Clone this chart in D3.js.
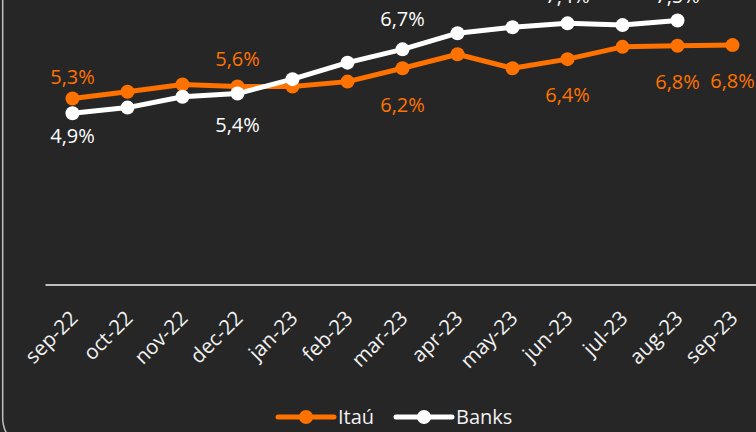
<!DOCTYPE html>
<html>
<head>
<meta charset="utf-8">
<script src="https://cdn.jsdelivr.net/npm/d3@7"></script>
<style>
    body { margin: 0; background: #262626; }
    svg { display: block; }
    text { font-family: "Open Sans", sans-serif; }
</style>
</head>
<body>
<div id="chart"></div>
<script>
const months = ['sep-22', 'oct-22', 'nov-22', 'dec-22', 'jan-23', 'feb-23', 'mar-23',
    'apr-23', 'may-23', 'jun-23', 'jul-23', 'aug-23', 'sep-23'];
const itau = [5.30, 5.49, 5.70, 5.64, 5.64, 5.78, 6.16, 6.56, 6.16, 6.42, 6.77, 6.80, 6.82];
const banks = [4.88, 5.04, 5.35, 5.44, 5.85, 6.32, 6.70, 7.16, 7.33, 7.44, 7.39, 7.52];
const itauLabelIdx = [0, 3, 6, 9, 11, 12];
const banksLabelIdx = [0, 3, 6, 9, 11];
const seriesNames = ['Itaú', 'Banks'];

const width = 756, height = 432;
const orange = '#ff7200';
const white = '#ffffff';

// label baseline offsets from the point (negative = above)
const labelDy = {
    'Itaú': [-14, -21, 44, 43, 43, 43],
    'Banks': [30, 38, -23, -20, -18]
};

const series = [
    {name: seriesNames[0], values: itau, labels: itauLabelIdx, color: orange},
    {name: seriesNames[1], values: banks, labels: banksLabelIdx, color: white}
];

const fmt = v => d3.format('.1f')(v).replace('.', ',') + '%';

let svg = d3.select('#chart')
    .append('svg')
    .attr('width', width)
    .attr('height', height);

// outer rounded frame (only left/bottom-left visible)
svg.append('rect')
    .attr('x', 2.7)
    .attr('y', -60)
    .attr('width', 900)
    .attr('height', 509)
    .attr('rx', 31)
    .attr('fill', 'none')
    .attr('stroke', '#bfbfbf')
    .attr('stroke-width', 1.5);

const x = d3.scalePoint()
    .domain(months)
    .range([45, 760])
    .padding(0.5);

const y = d3.scaleLinear()
    .domain([0, 8])
    .range([284.5, 284.5 - 8 * 35.1]);

// x axis
svg.append('g')
    .attr('transform', 'translate(0,' + y(0) + ')')
    .call(d3.axisBottom(x).tickSize(0).tickSizeOuter(0))
    .call(g => g.select('.domain')
        .attr('stroke', '#bfbfbf')
        .attr('stroke-width', 2))
    .call(g => g.selectAll('.tick text')
        .attr('x', 0)
        .attr('y', 0)
        .attr('dy', 0)
        .attr('transform', 'translate(6,35) rotate(-45)')
        .attr('text-anchor', 'end')
        .attr('fill', '#f2f2f2')
        .style('font-size', '20.5px')
        .style('font-family', '"Open Sans", sans-serif'));

// lines, markers and labels
series.forEach(s => {
    const pts = s.values.map((v, i) => ({month: months[i], value: v}));

    svg.append('path')
        .datum(pts)
        .attr('fill', 'none')
        .attr('stroke', s.color)
        .attr('stroke-width', 5)
        .attr('stroke-linejoin', 'round')
        .attr('d', d3.line()
            .x(d => x(d.month))
            .y(d => y(d.value))
        );

    svg.append('g')
        .selectAll('circle')
        .data(pts)
        .enter()
        .append('circle')
        .attr('cx', d => x(d.month))
        .attr('cy', d => y(d.value))
        .attr('r', 7)
        .attr('fill', s.color);

    svg.append('g')
        .selectAll('text')
        .data(s.labels)
        .enter()
        .append('text')
        .attr('x', i => x(months[i]))
        .attr('y', (i, k) => y(s.values[i]) + labelDy[s.name][k])
        .attr('text-anchor', 'middle')
        .attr('fill', s.color)
        .style('font-size', '20px')
        .text(i => fmt(s.values[i]));
});

// legend
const legendX = [278, 396];
const legend = svg.append('g')
    .attr('transform', 'translate(0,417)');

series.forEach((s, i) => {
    let g = legend.append('g')
        .attr('transform', 'translate(' + legendX[i] + ',0)');
    g.append('line')
        .attr('x1', 0)
        .attr('x2', 56)
        .attr('stroke', s.color)
        .attr('stroke-width', 5)
        .attr('stroke-linecap', 'round');
    g.append('circle')
        .attr('cx', 28)
        .attr('r', 7)
        .attr('fill', s.color);
    g.append('text')
        .attr('x', 60)
        .attr('y', 7)
        .attr('fill', '#f2f2f2')
        .style('font-size', '20px')
        .text(s.name);
});
</script>
</body>
</html>
